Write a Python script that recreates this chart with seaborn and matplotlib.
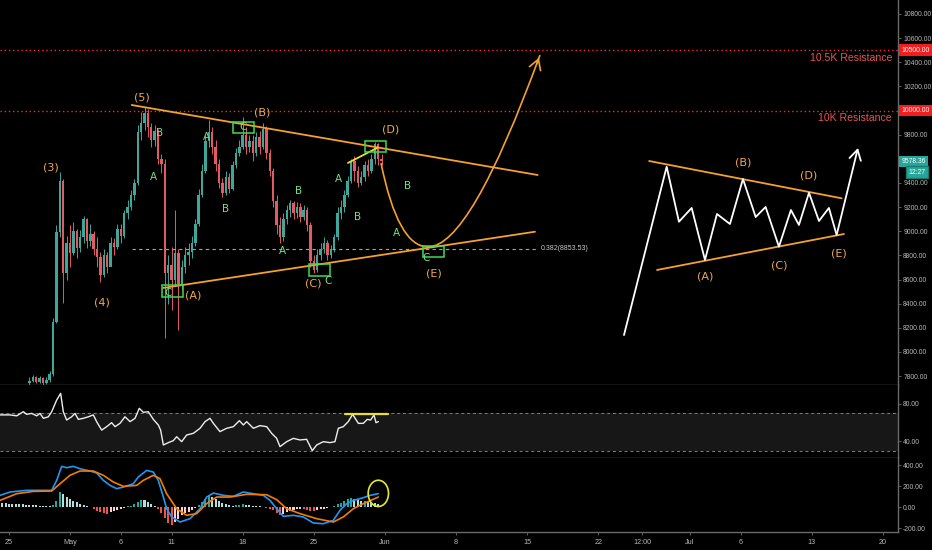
import numpy as np
import pandas as pd
import matplotlib
matplotlib.use("Agg")
import matplotlib.pyplot as plt
import matplotlib.transforms as mtransforms
from matplotlib.patches import Rectangle, Ellipse, PathPatch
from matplotlib.path import Path
import seaborn as sns

# ---------------- DATA ----------------
ref_day = "2020-05-01"
candle_start = "2020-04-27"      # 8h candles
first_open = 7740
close = [7760, 7790, 7750,  7780, 7740, 7770,  7820, 8250, 8990,
         9420, 8650, 8900,  8820, 9000, 8860,  8950, 9100, 8920,
         8980, 8850, 8790,  8640, 8800, 8700,  8900, 8870, 9020,
         8960, 9150, 9200,  9300, 9400, 9820,  9900, 9980, 9860,
         9760, 9830, 9600,  9560, 8650, 8720,  8600, 8820, 8560,
         8700, 8800, 8830,  8900, 9060, 9300,  9500, 9750, 9820,
         9700, 9560, 9400,  9320, 9450, 9350,  9550, 9650, 9700,
         9800, 9700, 9750,  9650, 9780, 9700,  9850, 9650, 9500,
         9250, 9050, 8950,  9100, 9180, 9230,  9150, 9200, 9120,
         9180, 9050, 8750,  8680, 8800, 8850,  8900, 8800, 8850,
         8950, 9150, 9200,  9300, 9420, 9580,  9500, 9400, 9450,
         9550, 9500, 9600,  9720, 9600, 9578.36]
high = [7790, 7810, 7800,  7800, 7790, 7790,  7840, 8280, 9050,
        9490, 9430, 8960,  9050, 9080, 9020,  9010, 9130, 9110,
        9060, 9000, 8950,  8830, 8850, 8830,  8950, 8940, 9060,
        9060, 9180, 9260,  9340, 9430, 9880,  9990, 10030, 10010,
        9900, 9880, 9850,  9640, 9600, 8800,  8870, 9176, 8850,
        8760, 8870, 8900,  8960, 9100, 9350,  9560, 9800, 9920,
        9860, 9760, 9600,  9440, 9500, 9480,  9580, 9690, 9760,
        9950, 9860, 9800,  9800, 9820, 9830,  9900, 9870, 9680,
        9520, 9300, 9120,  9150, 9220, 9260,  9250, 9240, 9230,
        9220, 9200, 9080,  8800, 8850, 8900,  8950, 8930, 8890,
        8980, 9200, 9260,  9340, 9460, 9600,  9620, 9540, 9500,
        9580, 9600, 9640,  9740, 9730, 9640]
low = [7730, 7750, 7740,  7740, 7720, 7735,  7750, 7800, 8240,
       8950, 8406, 8600,  8700, 8800, 8780,  8830, 8900, 8860,
       8880, 8800, 8700,  8580, 8620, 8650,  8760, 8800, 8850,
       8900, 8940, 9100,  9180, 9260, 9380,  9760, 9840, 9780,
       9700, 9710, 9560,  9480, 8116, 8400,  8350, 8550, 8182,
       8520, 8650, 8720,  8780, 8880, 9040,  9280, 9480, 9700,
       9640, 9500, 9360,  9284, 9300, 9320,  9340, 9520, 9620,
       9680, 9640, 9660,  9580, 9620, 9640,  9680, 9600, 9460,
       9200, 8980, 8903,  8920, 9060, 9120,  9100, 9110, 9080,
       9090, 9000, 8700,  8654, 8660, 8760,  8820, 8760, 8780,
       8830, 8930, 9100,  9160, 9280, 9400,  9420, 9370, 9380,
       9420, 9460, 9480,  9560, 9550, 9550]

rsi_days = [-6.89, -5.91, -5.25, -4.59, -4.27, -3.77, -3.28, -2.95, -2.62, -2.13,
            -1.80, -1.31, -0.92, -0.66, -0.33, 0.16, 0.49, 0.82, 1.31, 1.80,
            2.30, 2.62, 3.12, 3.61, 4.10, 4.43, 4.92, 5.41, 5.91, 6.40,
            6.82, 7.22, 7.71, 8.20, 8.69, 8.92, 9.19, 9.68, 10.17, 10.50,
            10.99, 11.48, 12.14, 12.80, 13.29, 13.78, 14.11, 14.76, 15.42, 16.08,
            16.67, 17.06, 17.39, 18.05, 18.70, 19.36, 19.85, 20.34, 20.67, 21.33,
            21.98, 22.64, 23.29, 23.85, 24.28, 24.93, 25.59, 26.08, 26.41, 26.90,
            27.39, 27.82, 28.38, 28.87, 29.26, 29.59, 29.92, 30.12, 30.35]
rsi_vals = [68, 68, 67, 71.4, 68.6, 69.6, 67, 69.6, 64.4, 66,
            71.4, 83.7, 90.7, 71.4, 62.6, 66, 69.6, 63.3, 64.4, 66,
            68, 60.9, 52, 55.6, 59.8, 55.6, 59.1, 66, 60.9, 64.4,
            74.9, 70.7, 71.4, 63.3, 57.4, 52, 36.3, 38.8, 40.9, 45,
            39.8, 46.8, 48.6, 53.9, 60.9, 64.4, 59.1, 50.4, 53.9, 55.6,
            61.9, 57.4, 60.9, 53.9, 56.7, 55.6, 48.6, 43.3, 34.6, 39.8,
            43.3, 41.6, 42.3, 30.4, 36.3, 39.8, 38.8, 39.8, 53.9, 55.6,
            60.9, 68.6, 59.1, 59.1, 63.3, 62.6, 68, 59.8, 60.9]
rsi_mark_level = 68.6
rsi_mark_days = [27.07, 31.3]

macd_days = [-6.89, -5.91, -4.27, -1.80, -1.31, -0.82, -0.33, 0.33, 0.98, 1.97,
             2.62, 3.28, 3.94, 4.59, 5.25, 6.23, 6.72, 7.55, 8.20, 8.69,
             9.19, 9.51, 10.01, 10.83, 11.81, 12.80, 13.45, 14.11, 15.09, 16.08,
             17.06, 18.05, 19.03, 19.69, 20.34, 21.00, 21.98, 22.97, 23.95, 24.93,
             25.92, 26.57, 27.23, 27.89, 28.87, 29.53, 30.35]
macd_vals = [111, 143, 159, 159, 254, 387, 375, 387, 365, 343,
             324, 254, 206, 175, 190, 222, 286, 349, 333, 254,
             95, -16, -95, -143, -111, -16, 95, 133, 111, 102,
             143, 127, 111, 63, -16, -89, -79, -95, -152, -159,
             -127, -32, 32, 63, 89, 111, 127]
signal_days = [-6.89, -5.25, -3.61, -1.80, -0.98, 0.0, 0.98, 2.30, 3.28, 4.27,
               5.25, 6.56, 7.22, 8.20, 8.86, 9.51, 10.50, 11.48, 12.47, 13.45,
               14.44, 15.75, 17.39, 19.36, 20.34, 21.33, 22.64, 24.28, 25.92, 26.90,
               27.89, 28.87, 30.35]
signal_vals = [63, 127, 149, 152, 222, 302, 343, 343, 302, 238,
               197, 206, 254, 302, 270, 127, -16, -79, -63, 32,
               95, 95, 121, 117, 70, -16, -63, -111, -143, -95,
               -16, 32, 95]
hist_start = "2020-04-24"        # 8h bars
hist = [45, 42, 38,  32, 30, 28,  25, 24, 22,  18, 16, 15,  12, 10, 8,
        6, 20, 60,  140, 120, 95,  75, 60, 45,  30, 20, 10,  0, -20, -35,
        -45, -55, -62,  -50, -40, -28,  -15, -5, 5,  10, 25, 50,  70, 65, 45,
        30, 5, -20,  -60, -100, -150,  -170, -140, -110,  -80, -60, -45,
        -30, -5, 20,  45, 80, 110,  100, 80, 60,  40, 25, 15,  10, 15, 20,
        25, 20, 15,  10, 8, 5,  0, -10, -15,  -30, -55, -75,  -65, -45, -35,
        -25, -20, -18,  -20, -30, -40,  -40, -30, -20,  -15, -5, 0,
        10, 25, 40,  60, 75, 90,  80, 70, 60,  60, 55, 40,  35, 30]

# chart drawings (days since May 1, price)
resistances = [10500, 10000]
resistance_labels = ["10.5K Resistance", "10K Resistance"]
fib_level = 8853.53
fib_days = [6.1, 45.94]
tri_upper = ([6.07, 46.03], [10046, 9466])
tri_lower = ([9.15, 45.77], [8530, 8996])
proj_days = [30.61, 32.28, 35.24, 39.37, 46.26]
proj_prices = [9566, 8870, 8870, 8870, 10460]
yellow_days = [27.36, 30.22]
yellow_prices = [9566, 9690]
box_day0 = [9.06, 16.04, 23.52, 29.04, 34.74]
box_day1 = [11.12, 18.11, 25.59, 31.10, 36.81]
box_p0 = [8455, 9814, 8629, 9657, 8787]
box_p1 = [8555, 9905, 8729, 9748, 8878]
wave_labels = ["(3)", "(4)", "(5)", "(A)", "(B)", "(C)", "(D)", "(E)"]
wave_days = [-1.87, 3.15, 7.09, 12.10, 18.90, 23.95, 31.60, 35.83]
wave_prices = [9532, 8406, 10112, 8464, 9980, 8571, 9847, 8654]
sub_labels = ["B", "A", "A", "B", "C", "B", "A", "C", "A", "B", "B", "A", "C", "C"]
sub_days = [8.86, 8.17, 13.39, 15.35, 17.03, 22.54, 20.87, 25.45, 26.38, 28.35,
            33.27, 32.09, 9.65, 35.04]
sub_prices = [9814, 9450, 9781, 9184, 9864, 9334, 8836, 8590, 9433, 9118,
              9375, 8986, 8488, 8778]
sketch_days = [54.53, 58.73, 59.94, 61.19, 62.50, 63.68, 64.96, 66.24, 67.49,
               68.47, 69.78, 70.96, 71.75, 72.74, 73.72, 74.70, 75.46, 77.56]
sketch_prices = [8140, 9535, 9079, 9193, 8762, 9143, 9060, 9433, 9118,
                 9201, 8872, 9176, 9052, 9319, 9085, 9193, 8969, 9690]
sketch_upper = ([57.0, 75.95], [9582, 9273])
sketch_lower = ([57.78, 76.18], [8679, 8977])
sketch_labels = ["(A)", "(B)", "(C)", "(D)", "(E)"]
sketch_lab_days = [62.5, 66.24, 69.78, 72.74, 75.69]
sketch_lab_prices = [8624, 9568, 8720, 9458, 8812]
last_price = 9578.36
countdown = "12:27"
circle_day, circle_val = 30.35, 130

price_ticks = list(range(7800, 10801, 200))
hidden_price_ticks = [10000, 9600]   # covered by the price tags
date_tick_days = [-6, 0, 5, 10, 17, 24, 31, 38, 45, 52, 56.3, 61, 66, 73, 80]
date_tick_labels = ["25", "May", "6", "11", "18", "25", "Jun", "8", "15", "22",
                    "12:00", "Jul", "6", "13", "20"]

# ---------------- STYLE ----------------
sns.set_theme(style="dark")
plt.rcParams["font.family"] = ["Liberation Sans", "DejaVu Sans"]
BG = "#000000"
TEAL = "#3da79c"
RED = "#e15a64"
ORANGE = "#f5a030"
ORANGE_TXT = "#f0a850"
GREEN = "#3fdc50"
GREEN_TXT = "#6fe27f"
AXIS = "#6a6a6a"
TXT = "#b8b8b8"
TICK_FS = 4.9

fig = plt.figure(figsize=(9.32, 5.5), dpi=100, facecolor=BG)
W = 898 / 932
ax = fig.add_axes([0, 1 - 385 / 550, W, 385 / 550])
ax_rsi = fig.add_axes([0, 1 - 458 / 550, W, 73 / 550], sharex=ax)
ax_macd = fig.add_axes([0, 1 - 532 / 550, W, 74 / 550], sharex=ax)

for a in (ax, ax_rsi, ax_macd):
    a.set_facecolor(BG)
    a.grid(False)
    for s in ("left", "top"):
        a.spines[s].set_visible(False)
    a.spines["right"].set_color(AXIS)
    a.spines["bottom"].set_color(AXIS)
    a.spines["right"].set_linewidth(1.0)
    a.spines["bottom"].set_linewidth(1.0)
    a.yaxis.tick_right()
    a.tick_params(axis="y", which="both", left=False, right=True, labelleft=False,
                  labelright=True, labelcolor=TXT, color=AXIS, labelsize=TICK_FS,
                  length=2.5, width=0.6, pad=1.2)

ax.set_xlim(-6.89, 81.5)

# ---------------- CANDLES ----------------
ref = pd.Timestamp(ref_day)
t_c = ((pd.date_range(candle_start, periods=len(close), freq="8h") - ref) / pd.Timedelta(days=1)).values
c = np.array(close, float)
o = np.array([first_open] + close[:-1], float)
h = np.array(high, float)
l = np.array(low, float)
cols = np.where(c >= o, TEAL, RED)
ax.vlines(t_c, l, h, colors=cols, linewidth=0.7, zorder=2)
ax.bar(t_c, np.maximum(np.abs(c - o), 8), bottom=np.minimum(o, c), width=0.24,
       color=cols, linewidth=0, zorder=3)
ax.set_ylim(7726, 10916)
ax.set_yticks(price_ticks)
ax.set_yticklabels(["" if v in hidden_price_ticks else f"{v:.2f}" for v in price_ticks])

# resistances
for lvl, lab in zip(resistances, resistance_labels):
    ax.axhline(lvl, color="#ff2a2a", linestyle=(0, (1, 2)), linewidth=1.0, zorder=1)
    ax.text(80.9, lvl - 62, lab, color="#e35656", fontsize=7.6, ha="right", va="center")

# fib line
ax.plot(fib_days, [fib_level, fib_level], color="#a5a5a5", linestyle=(0, (3, 3)), linewidth=0.8)
ax.text(fib_days[1] + 0.4, fib_level, f"0.382({fib_level:.2f})", color="#c8c8c8",
        fontsize=5.0, va="center", ha="left")

# triangle
ax.plot(*tri_upper, color=ORANGE, linewidth=1.3, zorder=4)
ax.plot(*tri_lower, color=ORANGE, linewidth=1.3, zorder=4)
ax.plot(yellow_days, yellow_prices, color="#e8e030", linewidth=1.3, zorder=4)

# projection curve
verts = list(zip(proj_days, proj_prices))
path = Path(verts, [Path.MOVETO, Path.CURVE3, Path.CURVE3, Path.CURVE3, Path.CURVE3])
ax.add_patch(PathPatch(path, facecolor="none", edgecolor=ORANGE, linewidth=1.2, zorder=4))
tip = np.array(verts[-1]); ctrl = np.array(verts[-2])
ax.annotate("", xy=tip, xytext=tip - 0.06 * (tip - ctrl),
            arrowprops=dict(arrowstyle="->,head_length=0.6,head_width=0.35", color=ORANGE, lw=1.2))

# boxes
for d0, d1, p0, p1 in zip(box_day0, box_day1, box_p0, box_p1):
    ax.add_patch(Rectangle((d0, p0), d1 - d0, p1 - p0, fill=False, edgecolor=GREEN,
                           linewidth=1.1, zorder=5))

for lab, d, p in zip(wave_labels, wave_days, wave_prices):
    ax.text(d, p, lab, color=ORANGE_TXT, fontsize=8, ha="center", va="center", zorder=6,
            family=["DejaVu Sans"])
for lab, d, p in zip(sub_labels, sub_days, sub_prices):
    ax.text(d, p, lab, color=GREEN_TXT, fontsize=7.5, ha="center", va="center", zorder=6,
            family=["DejaVu Sans"])

# schematic triangle on the right
sns.lineplot(x=sketch_days[:-1], y=sketch_prices[:-1], ax=ax, color="white",
             linewidth=1.3, sort=False, zorder=4)
ax.annotate("", xy=(sketch_days[-1], sketch_prices[-1]), xytext=(sketch_days[-2], sketch_prices[-2]),
            arrowprops=dict(arrowstyle="->,head_length=0.6,head_width=0.35", color="white", lw=1.3,
                            shrinkA=0, shrinkB=0))
ax.plot(*sketch_upper, color=ORANGE, linewidth=1.3, zorder=3)
ax.plot(*sketch_lower, color=ORANGE, linewidth=1.3, zorder=3)
for lab, d, p in zip(sketch_labels, sketch_lab_days, sketch_lab_prices):
    ax.text(d, p, lab, color=ORANGE_TXT, fontsize=8, ha="center", va="center",
            family=["DejaVu Sans"])

# price-axis tags
trans = mtransforms.blended_transform_factory(ax.transAxes, ax.transData)
for lvl in resistances:
    ax.text(1.0035, lvl, f"{lvl:.2f}", transform=trans, color="white", fontsize=TICK_FS,
            ha="left", va="center", clip_on=False, zorder=10,
            bbox=dict(facecolor="#f01e1e", edgecolor="none", boxstyle="square,pad=0.35"))
ax.text(1.0035, last_price, f"{last_price:.2f}", transform=trans, color="white", fontsize=TICK_FS,
        ha="left", va="center", clip_on=False, zorder=10,
        bbox=dict(facecolor="#26a69a", edgecolor="none", boxstyle="square,pad=0.35"))
ax.text(1.0305, last_price - 90, countdown, transform=trans, color="white", fontsize=TICK_FS,
        ha="right", va="center", clip_on=False, zorder=10,
        bbox=dict(facecolor="#26a69a", edgecolor="#1b7a70", boxstyle="square,pad=0.35"))

# ---------------- RSI ----------------
ax_rsi.fill_between([-6.89, 81.5], 30, 70, color="#171717", linewidth=0, zorder=0)
for lvl in (70, 30):
    ax_rsi.axhline(lvl, color="#808080", linestyle=(0, (3, 3)), linewidth=0.7, zorder=1)
sns.lineplot(x=rsi_days, y=rsi_vals, ax=ax_rsi, color="#ededed", linewidth=1.0, sort=False, zorder=3)
ax_rsi.plot(rsi_mark_days, [rsi_mark_level] * 2, color="#e8e030", linewidth=1.6, zorder=4)
ax_rsi.set_ylim(22.6, 99.5)
ax_rsi.set_yticks([40, 80])
ax_rsi.set_yticklabels(["40.00", "80.00"])

# ---------------- MACD ----------------
t_h = ((pd.date_range(hist_start, periods=len(hist), freq="8h") - ref) / pd.Timedelta(days=1)).values
hv = np.array(hist, float)
prev = np.concatenate([[hv[0]], hv[:-1]])
hcols = np.where(hv >= 0, np.where(hv >= prev, "#26a69a", "#b2dfdb"),
                 np.where(hv <= prev, "#ef5350", "#ffcdd2"))
ax_macd.bar(t_h, hv, width=0.2, color=hcols, linewidth=0, zorder=2)
sns.lineplot(x=macd_days, y=macd_vals, ax=ax_macd, color="#2196f3", linewidth=1.2, sort=False, zorder=3)
sns.lineplot(x=signal_days, y=signal_vals, ax=ax_macd, color="#f57c00", linewidth=1.2, sort=False, zorder=4)
ax_macd.add_patch(Ellipse((circle_day, circle_val), 2.0, 250, fill=False,
                          edgecolor="#e8e82a", linewidth=1.2, zorder=5))
ax_macd.set_ylim(-238, 467)
ax_macd.set_yticks([-200, 0, 200, 400])
ax_macd.set_yticklabels(["-200.00", "0.00", "200.00", "400.00"])

for a in (ax, ax_rsi):
    a.tick_params(axis="x", bottom=False, labelbottom=False)
ax_macd.set_xticks(date_tick_days)
ax_macd.set_xticklabels(date_tick_labels)
ax_macd.tick_params(axis="x", bottom=True, labelbottom=True, labelcolor=TXT, color=AXIS,
                    labelsize=5.2, length=2.5, width=0.6, pad=2.5)
for a in (ax, ax_rsi, ax_macd):
    a.set_xlabel("")
    a.set_ylabel("")

fig.savefig("out.png", dpi=100, facecolor=BG)
